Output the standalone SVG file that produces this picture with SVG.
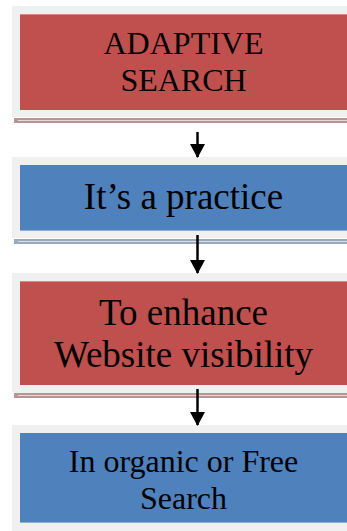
<svg xmlns="http://www.w3.org/2000/svg" width="347" height="531" viewBox="0 0 347 531">
<style>
.frame{fill:#f0f0f0}
.red{fill:#c0504d}
.blue{fill:#4f81bd}
.shr{fill:#b99494}
.shb{fill:#9aaabd}
.hl{fill:#e8d8d8}
.t{font-family:"Liberation Serif","Times New Roman",serif;fill:#000;text-anchor:middle}
.conn{stroke:#000;stroke-width:2.5;fill:none}
</style>
<defs>
<marker id="ah" markerWidth="14" markerHeight="15" refX="13" refY="7.5" orient="auto" markerUnits="userSpaceOnUse">
<path d="M0,0 L14,7.5 L0,15 Z" fill="#000"/>
</marker>
</defs>
<rect width="347" height="531" fill="#fff"/>
<g id="node1">
<rect x="14" y="118" width="333" height="5" class="shr"/>
<rect x="18" y="120" width="329" height="1" class="hl"/>
<rect x="12" y="6" width="335" height="111" class="frame"/>
<rect x="20" y="14" width="327" height="96" class="red"/>
<rect x="20" y="14" width="327" height="1" fill="#d98886"/>
<text class="t" x="183.5" y="54" font-size="32">ADAPTIVE</text>
<text class="t" x="183.5" y="91" font-size="32">SEARCH</text>
</g>
<g id="node2">
<rect x="14" y="239" width="333" height="5" class="shb"/>
<rect x="18" y="241" width="329" height="1" fill="#d6dde6"/>
<rect x="12" y="157" width="335" height="81" class="frame"/>
<rect x="20" y="165" width="327" height="66" class="blue"/>
<rect x="20" y="230" width="327" height="1" fill="#8fb0d6"/>
<text class="t" x="183.5" y="209" font-size="37">It’s a practice</text>
</g>
<g id="node3">
<rect x="14" y="393" width="333" height="5" class="shr"/>
<rect x="18" y="395" width="329" height="1" class="hl"/>
<rect x="12" y="273" width="335" height="120" class="frame"/>
<rect x="20" y="281" width="327" height="104" class="red"/>
<rect x="20" y="281" width="327" height="1" fill="#d98886"/>
<text class="t" x="183.5" y="325" font-size="37">To enhance</text>
<text class="t" x="183.5" y="367" font-size="37">Website visibility</text>
</g>
<g id="node4">
<rect x="12" y="425" width="335" height="106" class="frame"/>
<rect x="20" y="433" width="327" height="90" class="blue"/>
<rect x="20" y="522" width="327" height="1" fill="#8fb0d6"/>
<text class="t" x="183.5" y="472" font-size="32">In organic or Free</text>
<text class="t" x="183.5" y="509" font-size="32">Search</text>
</g>
<g id="connectors">
<line class="conn" x1="197.5" y1="132" x2="197.5" y2="157" marker-end="url(#ah)"/>
<line class="conn" x1="197.5" y1="235" x2="197.5" y2="273" marker-end="url(#ah)"/>
<line class="conn" x1="197.5" y1="389" x2="197.5" y2="425" marker-end="url(#ah)"/>
</g>
</svg>
